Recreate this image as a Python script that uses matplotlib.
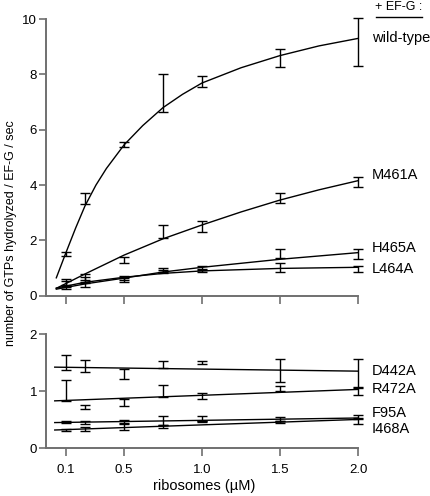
import matplotlib
matplotlib.use("Agg")
import matplotlib.pyplot as plt

plt.rcParams["font.family"] = ["Liberation Sans", "DejaVu Sans"]

# Концентрації рибосом (мкМ)
RIBOSOMES = [0.125, 0.25, 0.5, 0.75, 1.0, 1.5, 2.0]
X_TICKS = [0.125, 0.5, 1.0, 1.5, 2.0]
X_TICK_LABELS = ["0.1", "0.5", "1.0", "1.5", "2.0"]

# --- верхня панель: виміряні точки (середнє, похибка) ---
WT_Y = [1.52, 3.52, 5.48, 7.33, 7.74, 8.58, 9.18]
WT_ERR = [0.08, 0.19, 0.09, 0.69, 0.21, 0.33, 0.87]
M461A_Y = [0.50, 0.67, 1.30, 2.32, 2.52, 3.53, 4.10]
M461A_ERR = [0.11, 0.11, 0.12, 0.24, 0.20, 0.18, 0.18]
H465A_Y = [0.42, 0.57, 0.65, 0.93, 1.00, 1.53, 1.50]
H465A_ERR = [0.10, 0.10, 0.07, 0.07, 0.06, 0.15, 0.18]
L464A_Y = [0.30, 0.42, 0.58, 0.88, 0.92, 1.02, 0.97]
L464A_ERR = [0.07, 0.09, 0.08, 0.05, 0.05, 0.15, 0.12]

# --- верхня панель: криві апроксимації ---
WT_FIT_X = [0.066, 0.1, 0.125, 0.19, 0.25, 0.32, 0.387, 0.5, 0.62, 0.75,
            0.875, 1.0, 1.25, 1.5, 1.75, 2.0]
WT_FIT_Y = [0.65, 1.15, 1.52, 2.45, 3.25, 4.00, 4.60, 5.45, 6.15, 6.80,
            7.28, 7.69, 8.24, 8.68, 9.03, 9.30]
M461A_FIT_X = [0.066, 0.25, 0.5, 0.75, 1.0, 1.25, 1.5, 1.75, 2.0]
M461A_FIT_Y = [0.27, 0.79, 1.47, 2.06, 2.56, 3.03, 3.46, 3.83, 4.16]
H465A_FIT_X = [0.066, 0.25, 0.5, 0.75, 1.0, 1.5, 2.0]
H465A_FIT_Y = [0.24, 0.43, 0.64, 0.86, 1.03, 1.32, 1.56]
L464A_FIT_X = [0.066, 0.25, 0.5, 0.75, 1.0, 1.5, 2.0]
L464A_FIT_Y = [0.28, 0.49, 0.67, 0.81, 0.90, 0.99, 1.03]

# --- нижня панель: виміряні точки ---
D442A_Y = [1.50, 1.44, 1.30, 1.47, 1.50, 1.36, 1.31]
D442A_ERR = [0.125, 0.105, 0.09, 0.065, 0.025, 0.20, 0.25]
R472A_Y = [1.01, 0.72, 0.80, 1.00, 0.915, 1.05, 1.00]
R472A_ERR = [0.18, 0.03, 0.06, 0.105, 0.045, 0.045, 0.07]
F95A_Y = [0.46, 0.45, 0.47, 0.48, 0.52, 0.51, 0.55]
F95A_ERR = [0.02, 0.03, 0.02, 0.08, 0.045, 0.04, 0.025]
I468A_Y = [0.32, 0.34, 0.37, 0.38, 0.47, 0.46, 0.47]
I468A_ERR = [0.02, 0.04, 0.05, 0.025, 0.015, 0.01, 0.05]

# --- нижня панель: прямі апроксимації ---
LINE_X = [0.056, 2.0]
D442A_FIT = [1.42, 1.35]
R472A_FIT = [0.83, 1.03]
F95A_FIT = [0.45, 0.53]
I468A_FIT = [0.32, 0.505]

# Підписи мутантів: (текст, y у даних)
TOP_LABELS = [("wild-type", 9.33), ("M461A", 4.37), ("H465A", 1.72), ("L464A", 0.96)]
BOTTOM_LABELS = [("D442A", 1.36), ("R472A", 1.03), ("F95A", 0.61), ("I468A", 0.34)]

SPINE = "#707070"
LABEL_X = 2.09


def style_axis(ax, ymax, yticks):
    ax.set_xlim(0, 2.0)
    ax.set_ylim(0, ymax)
    ax.set_yticks(yticks)
    ax.set_xticks(X_TICKS)
    for side in ("top", "right"):
        ax.spines[side].set_visible(False)
    for side in ("left", "bottom"):
        ax.spines[side].set_color(SPINE)
        ax.spines[side].set_linewidth(1.4)
    ax.tick_params(axis="y", direction="out", length=5, width=1.2,
                   color=SPINE, labelsize=9.5, pad=1.5)
    ax.tick_params(axis="x", direction="out", length=6, width=1.2,
                   color=SPINE, labelsize=9.5, pad=5.5)


def draw_points(ax, y, err):
    bars = ax.errorbar(RIBOSOMES, y, yerr=err, fmt="none", ecolor="black",
                       elinewidth=1.0, capsize=3.4, capthick=1.0)
    # планки біля краю осі не обрізаються
    for artist in bars.lines[1] + bars.lines[2]:
        artist.set_clip_on(False)


fig = plt.figure(figsize=(4.30, 4.96), dpi=100)
ax1 = fig.add_axes([0.107, 0.4036, 0.7256, 0.558])
ax2 = fig.add_axes([0.107, 0.0962, 0.7256, 0.2304])

# Верхня панель
style_axis(ax1, 10, [0, 2, 4, 6, 8, 10])
ax1.set_xticklabels([])
for fx, fy in [(WT_FIT_X, WT_FIT_Y), (M461A_FIT_X, M461A_FIT_Y),
               (H465A_FIT_X, H465A_FIT_Y), (L464A_FIT_X, L464A_FIT_Y)]:
    ax1.plot(fx, fy, color="black", lw=1.0, clip_on=False)
for y, err in [(WT_Y, WT_ERR), (M461A_Y, M461A_ERR),
               (H465A_Y, H465A_ERR), (L464A_Y, L464A_ERR)]:
    draw_points(ax1, y, err)
for text, y in TOP_LABELS:
    ax1.text(LABEL_X, y, text, fontsize=10.5, va="center", ha="left")
ax1.text(2.262, 10.43, "+ EF-G :", fontsize=9, va="center", ha="center")
ax1.plot([2.114, 2.409], [10.07, 10.07], color="black", lw=1.0, clip_on=False)

# Нижня панель
style_axis(ax2, 2, [0, 1, 2])
ax2.set_xticklabels(X_TICK_LABELS)
for fy in [D442A_FIT, R472A_FIT, F95A_FIT, I468A_FIT]:
    ax2.plot(LINE_X, fy, color="black", lw=1.0, clip_on=False)
for y, err in [(D442A_Y, D442A_ERR), (R472A_Y, R472A_ERR),
               (F95A_Y, F95A_ERR), (I468A_Y, I468A_ERR)]:
    draw_points(ax2, y, err)
for text, y in BOTTOM_LABELS:
    ax2.text(LABEL_X, y, text, fontsize=10.5, va="center", ha="left")

fig.text(0.474, 0.020, "ribosomes (\u00b5M)", fontsize=10.5, ha="center", va="center")
fig.text(0.026, 0.530, "number of GTPs hydrolyzed / EF-G / sec", fontsize=9,
         rotation=90, ha="center", va="center")

fig.savefig("out.png", dpi=100)
plt.close(fig)
